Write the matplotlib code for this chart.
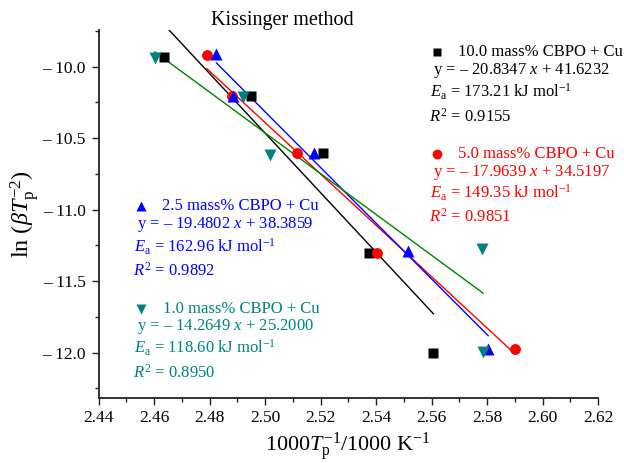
import numpy as np
import matplotlib
matplotlib.use("Agg")
import matplotlib.pyplot as plt
from matplotlib.ticker import MultipleLocator, FuncFormatter

plt.rcParams["font.family"] = ["Liberation Serif", "DejaVu Serif"]
plt.rcParams["mathtext.fontset"] = "custom"
plt.rcParams["mathtext.rm"] = "Liberation Serif"
plt.rcParams["mathtext.it"] = "Liberation Serif:italic"
plt.rcParams["mathtext.bf"] = "Liberation Serif:bold"

# data: 1000/Tp and ln(beta/Tp^2) for each loading
labels = ["10.0 mass% CBPO + Cu", "5.0 mass% CBPO + Cu",
          "2.5 mass% CBPO + Cu", "1.0 mass% CBPO + Cu"]
x_10 = [2.4636, 2.4949, 2.5210, 2.5373, 2.5607]
y_10 = [-9.932, -10.203, -10.601, -11.301, -12.000]
x_5 = [2.4791, 2.4882, 2.5114, 2.5405, 2.5900]
y_5 = [-9.918, -10.203, -10.606, -11.301, -11.974]
x_25 = [2.4825, 2.4885, 2.5177, 2.5515, 2.5804]
y_25 = [-9.911, -10.207, -10.601, -11.287, -11.976]
x_1 = [2.4603, 2.4921, 2.5018, 2.5782, 2.5786]
y_1 = [-9.937, -10.212, -10.617, -11.277, -11.993]

slopes = [-20.8347, -17.9639, -19.4802, -14.2649]
intercepts = [41.6232, 34.5197, 38.3859, 25.2000]
ea_values = ["173.21", "149.35", "162.96", "118.60"]
r2_values = ["0.9155", "0.9851", "0.9892", "0.8950"]

xs = [x_10, x_5, x_25, x_1]
ys = [y_10, y_5, y_25, y_1]
markers = ["s", "o", "^", "v"]
msizes = [6.8, 7.8, 8.5, 8.5]
point_colors = ["black", "#ff0000", "#0000ff", "#008080"]
line_colors = ["black", "#ff0000", "#0000ff", "#008000"]
text_colors = ["black", "#ff0000", "#0000ff", "#008080"]

fig = plt.figure(figsize=(6.24, 4.63), dpi=100)
ax = fig.add_axes([98.5 / 624, 1 - 398 / 463, 499.5 / 624, 368 / 463])

for i in range(4):
    ax.plot(xs[i], ys[i], linestyle="none", marker=markers[i], ms=msizes[i],
            color=point_colors[i], mec="none", zorder=3)
    xl = np.array([min(xs[i]), max(xs[i])])
    ax.plot(xl, slopes[i] * xl + intercepts[i], color=line_colors[i], lw=1.0, zorder=2)

ax.set_xlim(2.44, 2.62)
ax.set_ylim(-12.317, -9.743)
ax.xaxis.set_major_locator(MultipleLocator(0.02))
ax.xaxis.set_minor_locator(MultipleLocator(0.01))
ax.yaxis.set_major_locator(MultipleLocator(0.5))
ax.yaxis.set_minor_locator(MultipleLocator(0.25))
ax.xaxis.set_major_formatter(FuncFormatter(lambda v, p: f"{v:.2f}"))
ax.yaxis.set_major_formatter(FuncFormatter(lambda v, p: f"\u2013 {abs(v):.1f}"))
ax.tick_params(which="both", direction="out", labelsize=12.5, width=1.0, color="#222222")
ax.tick_params(which="major", length=5, pad=4)
ax.tick_params(which="minor", length=3)
for s in ["top", "right"]:
    ax.spines[s].set_visible(False)
for s in ["left", "bottom"]:
    ax.spines[s].set_linewidth(1.3)
    ax.spines[s].set_color("#222222")

ax.set_xlabel(r"1000$T_\mathrm{p}^{-1}$/1000 K$^{-1}$", fontsize=16, labelpad=3)
ax.set_ylabel(r"ln ($\beta T_\mathrm{p}^{-2}$)", fontsize=17.5, labelpad=0)

fig.text(282 / 624, 1 - 20 / 463, "Kissinger method", fontsize=14.5,
         ha="center", va="center")

# annotation blocks: marker position, title row, then equation / Ea / R2 rows (pixels)
blocks = [
    (437, 52, 458, [71, 92, 117]),
    (437, 154, 458, [173, 193, 217]),
    (141, 206, 162, [225, 247, 271]),
    (141, 309, 163, [327, 348, 373]),
]
fs = 12
for i, (mx, my, tx, rows) in enumerate(blocks):
    c = text_colors[i]
    fig.lines.append(plt.Line2D([mx / 624], [1 - my / 463], transform=fig.transFigure,
                                marker=markers[i], ms=msizes[i] - 0.8, color=c,
                                mec="none", linestyle="none"))
    fig.text(tx / 624, 1 - my / 463, labels[i], color=c, fontsize=fs, va="center")
    sx = mx - 4
    eq = f"y = \u2013 {abs(slopes[i]):.4f} $x$ + {intercepts[i]:.4f}"
    fig.text(sx / 624, 1 - rows[0] / 463, eq, color=c, fontsize=fs, va="center")
    fig.text((sx - 3) / 624, 1 - rows[1] / 463,
             r"$E_\mathrm{a}$ = " + ea_values[i] + r" kJ mol$^{-1}$",
             color=c, fontsize=fs, va="center")
    fig.text((sx - 4) / 624, 1 - rows[2] / 463, r"$R^2$ = " + r2_values[i],
             color=c, fontsize=fs, va="center")

fig.savefig("out.png", dpi=100)
